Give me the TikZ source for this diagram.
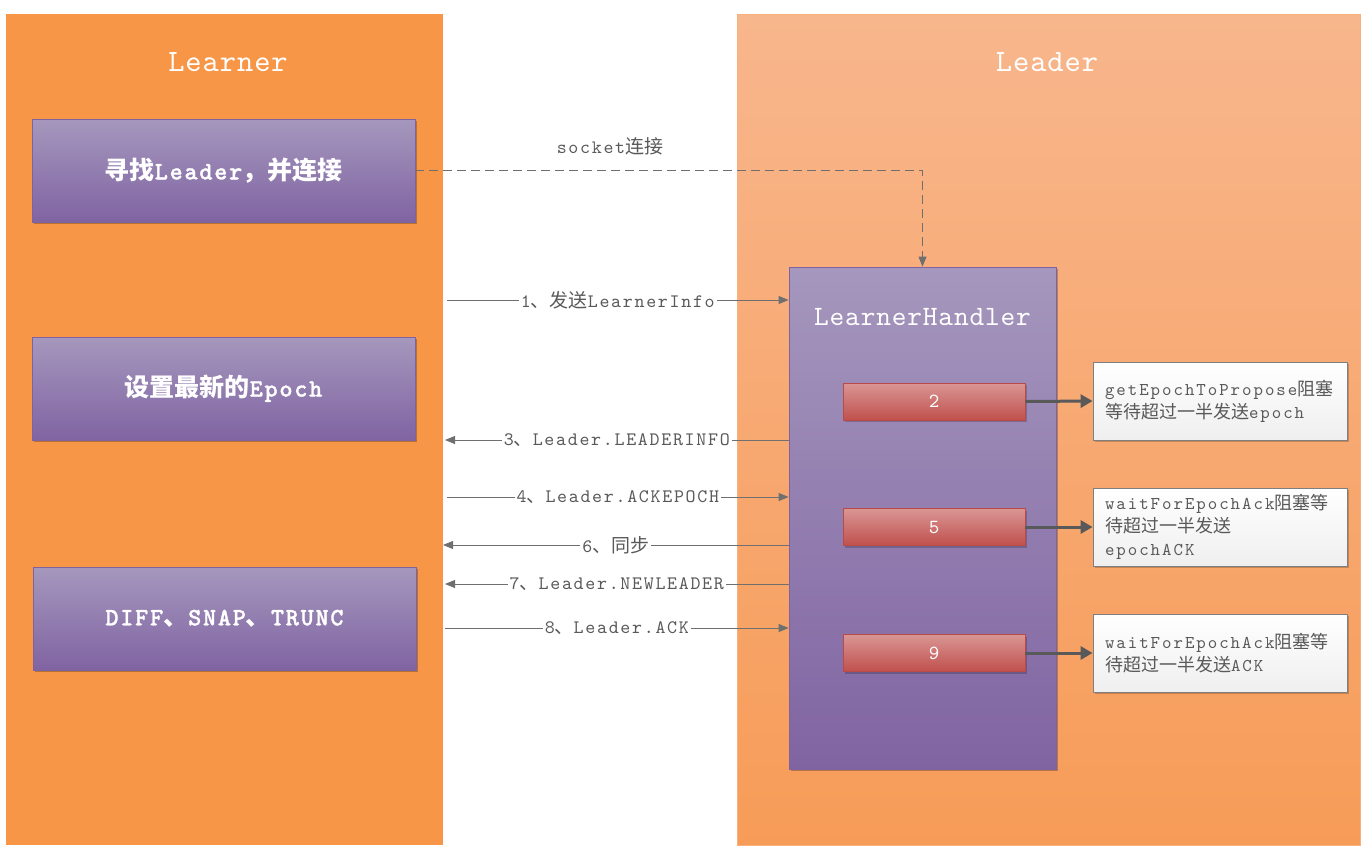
\documentclass[tikz,border=0pt]{standalone}
\usepackage{fontspec}
\newfontfamily\cjk{Noto Sans CJK SC}
\newfontfamily\lmm{lmmono10-regular.otf}[BoldFont=lmmonolt10-bold.otf, BoldFeatures={FakeBold=1.2}]
\newcommand\zh[1]{{\cjk #1}}
\newcommand\monosp[1]{\lmm\addfontfeatures{LetterSpace=#1}}
\usetikzlibrary{arrows.meta,shadows}
\definecolor{lorange}{HTML}{F79646}
\definecolor{ldtop}{HTML}{F8B68C}
\definecolor{ldbot}{HTML}{F79C58}
\definecolor{pTop}{HTML}{A597BD}
\definecolor{pBot}{HTML}{8064A2}
\definecolor{pBorder}{HTML}{7E63A0}
\definecolor{rTop}{HTML}{D99694}
\definecolor{rBot}{HTML}{C0504D}
\definecolor{rBorder}{HTML}{B94A47}
\definecolor{lineg}{HTML}{6F6F6F}
\definecolor{txtg}{HTML}{595959}
\definecolor{wbBorder}{HTML}{7F7F7F}
\definecolor{wbBot}{HTML}{EFEFEF}
\tikzset{
  learnerpanel/.style={fill=lorange, minimum width=437pt, minimum height=831pt, inner sep=0pt},
  leaderpanel/.style={top color=ldtop, bottom color=ldbot, draw=ldtop!80!lorange, line width=0.6pt, minimum width=623pt, minimum height=831pt, inner sep=0pt},
  paneltitle/.style={text=white, font=\monosp{3}\fontsize{31}{34}\selectfont},
  purplebox/.style={top color=pTop, bottom color=pBot, draw=pBorder, line width=0.8pt, text=white, inner sep=0pt,
     drop shadow={shadow xshift=2pt, shadow yshift=-2pt, opacity=0.25, fill=black}},
  stepbox/.style={purplebox, minimum width=383pt, minimum height=103pt, font=\monosp{7}\bfseries\fontsize{25}{28}\selectfont},
  handlerbox/.style={purplebox, minimum width=267pt, minimum height=502pt},
  redbox/.style={top color=rTop, bottom color=rBot, draw=rBorder, line width=0.8pt, text=white, minimum width=182pt, minimum height=37pt, inner sep=0pt, font=\lmm\fontsize{20}{22}\selectfont,
     drop shadow={shadow xshift=2pt, shadow yshift=-2pt, opacity=0.2, fill=black}},
  notebox/.style={top color=white, bottom color=wbBot, draw=wbBorder, line width=0.8pt, text=txtg, minimum width=254pt, minimum height=78pt, text width=230pt, align=left, inner xsep=12pt, inner ysep=0pt, font=\monosp{11}\fontsize{18}{23}\selectfont,
     drop shadow={shadow xshift=2pt, shadow yshift=-2pt, opacity=0.2, fill=black}},
  msg/.style={draw=lineg, line width=0.8pt, -{Triangle[length=10pt, width=8pt]}},
  msglabel/.style={fill=white, text=txtg, inner xsep=2pt, inner ysep=1pt, font=\monosp{9}\fontsize{19}{21}\selectfont},
  thickarrow/.style={draw=txtg, line width=3pt, -{Triangle[length=12pt, width=13pt]}},
  sockarrow/.style={draw=lineg, line width=0.8pt, dash pattern=on 9pt off 5pt, -{Triangle[length=10pt, width=8pt]}},
}
\begin{document}
\begin{tikzpicture}[x=1pt, y=-1pt]
\useasboundingbox (0,0) rectangle (1364,865);
% panels
\node[learnerpanel] (learner) at (224.5,429.5) {};
\node[leaderpanel] (leader) at (1048.5,429.5) {};
\node[paneltitle] (learnertitle) at (228,62) {Learner};
\node[paneltitle] (leadertitle) at (1047,62) {Leader};
% learner steps
\node[stepbox] (b1) at (223.5,170.5) {\zh{寻找}Leader\zh{，并连接}};
\node[stepbox] (b2) at (223.5,388.5) {\zh{设置最新的}Epoch};
\node[stepbox] (b3) at (224.5,618.5) {DIFF\zh{、}SNAP\zh{、}TRUNC};
% handler
\node[handlerbox] (handler) at (922.5,518) {};
\node[text=white, font=\monosp{3}\fontsize{28}{30}\selectfont] (htitle) at (922.5,317) {LearnerHandler};
\node[redbox] (r2) at (934,401.5) {2};
\node[redbox] (r5) at (934,527) {5};
\node[redbox] (r9) at (934,653) {9};
\node[notebox] (w2) at (1220,401) {getEpochToPropose\zh{阻塞}\\\zh{等待超过一半发送}epoch};
\node[notebox] (w5) at (1220,527) {waitForEpochAck\zh{阻塞等}\\\zh{待超过一半发送}\\epochACK};
\node[notebox] (w9) at (1220,653) {waitForEpochAck\zh{阻塞等}\\\zh{待超过一半发送}ACK};
\draw[thickarrow] (r2.east) -- (w2.west);
\draw[thickarrow] (r5.east) -- (w5.west);
\draw[thickarrow] (r9.east) -- (w9.west);
% socket connection
\draw[sockarrow] (b1.east) -| (handler.north);
\node[text=txtg, font=\monosp{9}\fontsize{19}{21}\selectfont] (socklabel) at (610,146) {socket\zh{连接}};
% messages
\coordinate (s1) at (447,300);
\coordinate (s3) at (445,440);
\coordinate (s4) at (447,497);
\coordinate (s6) at (443,545);
\coordinate (s7) at (445,584);
\coordinate (s8) at (445,628);
\draw[msg] (s1) -- (handler.west |- s1) node[msglabel, midway] (m1) {1\zh{、发送}LearnerInfo};
\draw[msg] (handler.west |- s3) -- (s3) node[msglabel, midway] (m3) {3\zh{、}Leader.LEADERINFO};
\draw[msg] (s4) -- (handler.west |- s4) node[msglabel, midway] (m4) {4\zh{、}Leader.ACKEPOCH};
\draw[msg] (handler.west |- s6) -- (s6) node[msglabel, midway] (m6) {6\zh{、同步}};
\draw[msg] (handler.west |- s7) -- (s7) node[msglabel, midway] (m7) {7\zh{、}Leader.NEWLEADER};
\draw[msg] (s8) -- (handler.west |- s8) node[msglabel, midway] (m8) {8\zh{、}Leader.ACK};
\end{tikzpicture}
\end{document}
